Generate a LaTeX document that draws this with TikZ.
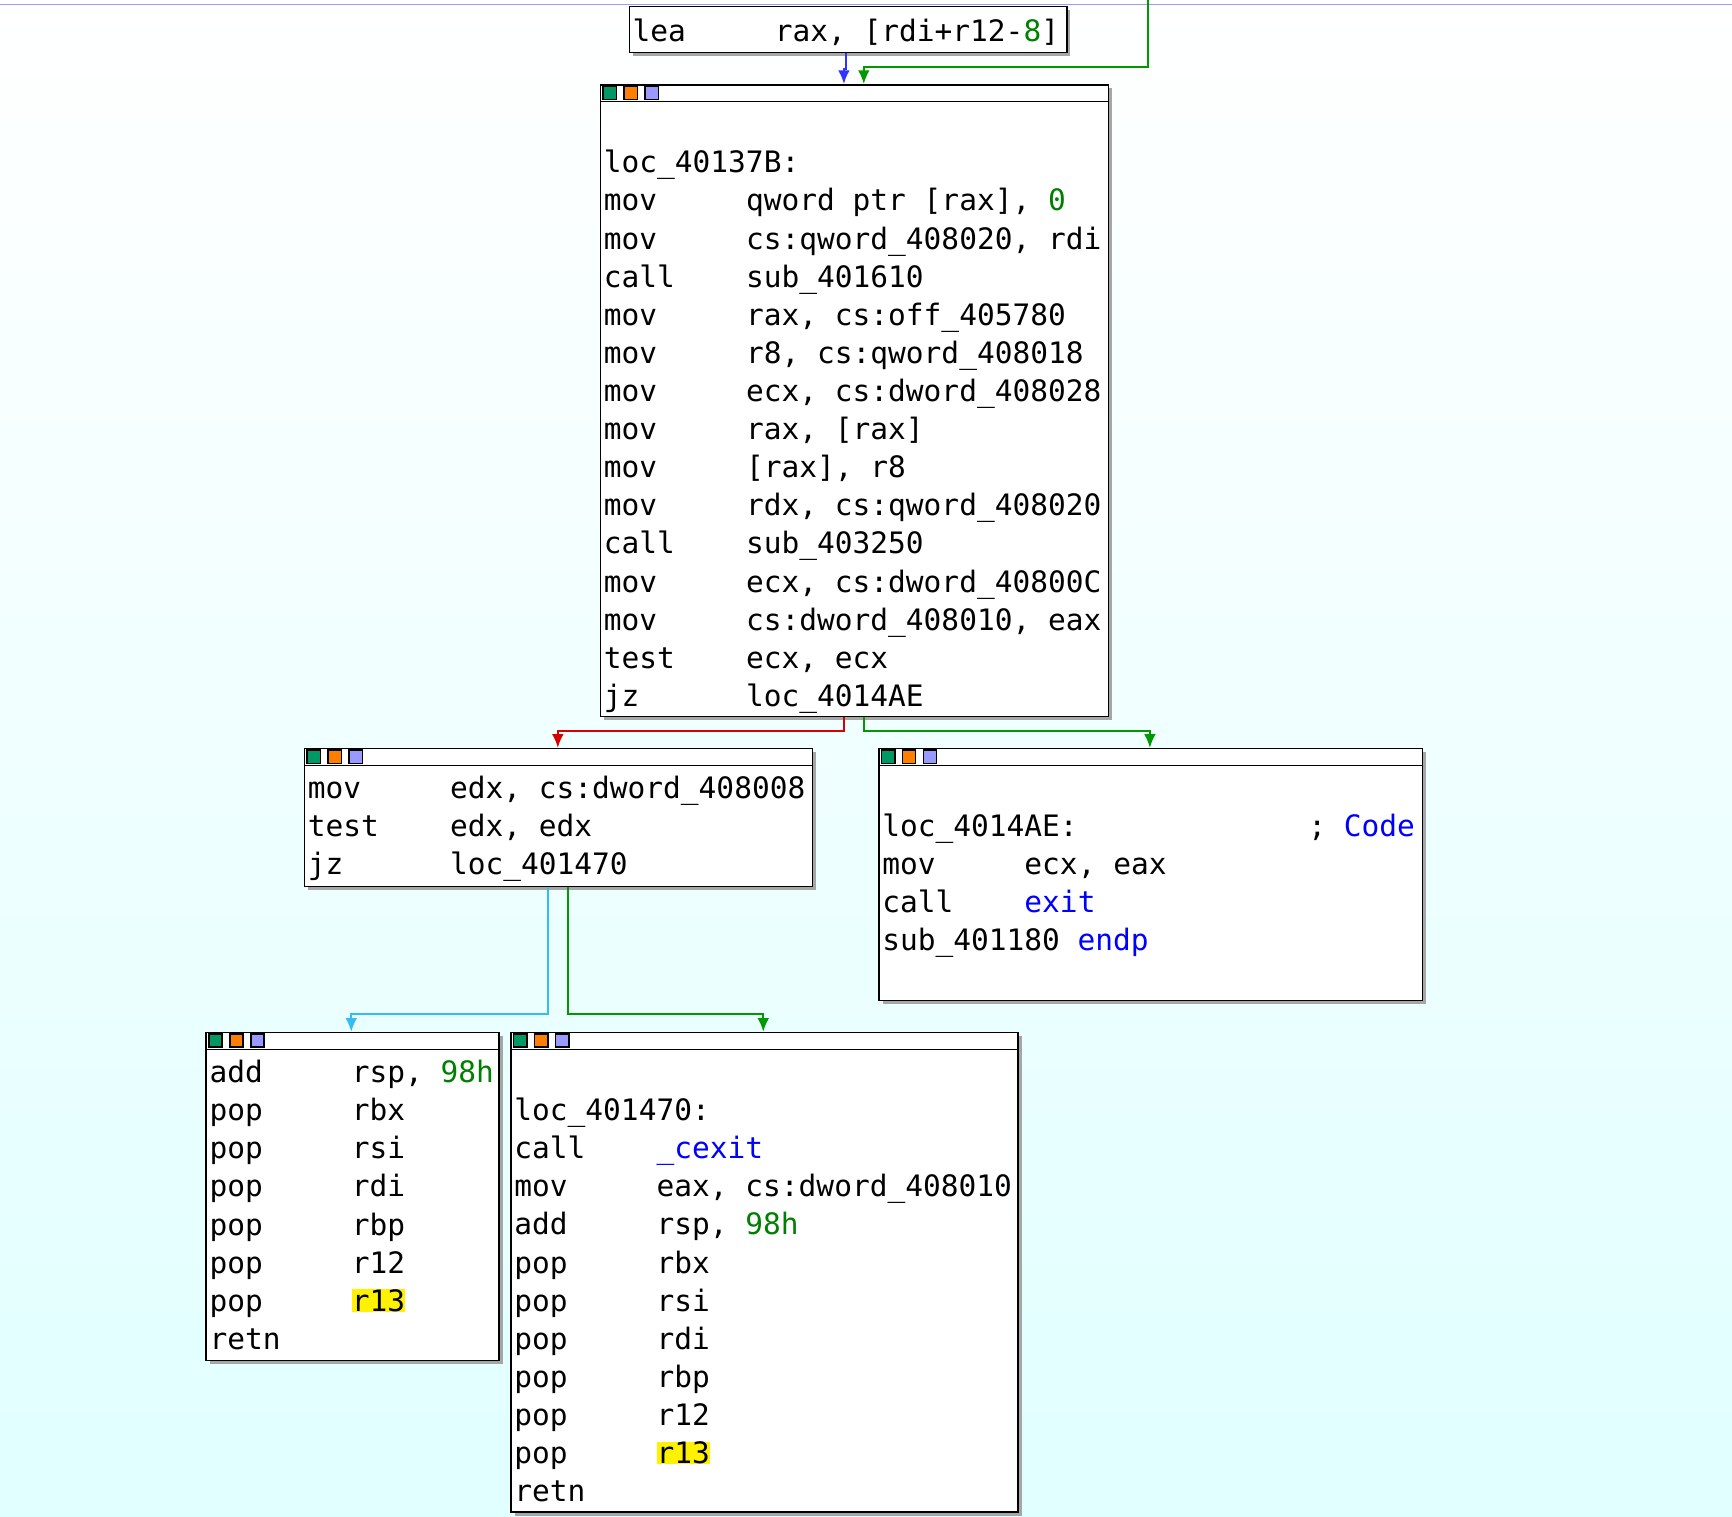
\documentclass[tikz,border=0pt]{standalone}
\usepackage{fontspec}
\setmonofont{DejaVu Sans Mono}
\usetikzlibrary{arrows.meta}
\colorlet{NumberGreen}{green!50!black}
\colorlet{NameBlue}{blue}
\colorlet{EdgeTrue}{green!60!black}
\colorlet{EdgeFalse}{red!85!black}
\colorlet{EdgeJump}{blue!80}
\colorlet{EdgeFall}{cyan!80}
\newcommand{\insn}[2]{\makebox[4.82em][l]{#1}#2}
\newcommand{\num}[1]{\textcolor{NumberGreen}{#1}}
\newcommand{\nm}[1]{\textcolor{NameBlue}{#1}}
\newcommand{\hl}[1]{{\setlength{\fboxsep}{0pt}\colorbox{yellow}{#1}}}
\tikzset{
  block/.style={draw=black, fill=white, anchor=north west, inner sep=0pt},
  code/.style={anchor=north west, inner sep=0pt, align=left,
    font=\ttfamily\fontsize{7.6pt}{9.82pt}\selectfont},
  edge/.style={line width=0.5pt, -{Latex[length=3.5pt,width=3pt]}},
}
% one block with header and icons
\newcommand{\blockbox}[5]{% name, x, y, w, h
  \fill[black!35] (#2+0.04,-#3-0.04) rectangle ++(#4,-#5);
  \node[block, minimum width=#4 cm, minimum height=#5 cm] (#1) at (#2,-#3) {};
  \draw (#2,-#3-0.16) -- ++(#4,0);
  \foreach \i/\c in {0/green!60!blue,1/orange,2/blue!40} {
    \draw[fill=\c] (#2+0.03+\i*0.19,-#3-0.02) rectangle ++(0.12,-0.12);
  }
}
\begin{document}
\begin{tikzpicture}
\shade[top color=white, bottom color=cyan!12] (0,0) rectangle (15.68,-13.73);
\useasboundingbox (0,0) rectangle (15.68,-13.73);
\draw[blue!40] (0,-0.04) -- (15.68,-0.04);

% blocks
\fill[black!35] (5.73,-0.09) rectangle ++(3.96,-0.42);
\node[block, minimum width=3.96cm, minimum height=0.42cm] (lea) at (5.69,-0.05) {};
\node[code] at (5.72,-0.16) {\insn{lea}{rax, [rdi+r12-\num{8}]}};

\blockbox{locB}{5.43}{0.76}{4.60}{5.72}
\node[code] at (5.46,-0.97) {\strut\\
loc\_40137B:\\
\insn{mov}{qword ptr [rax], \num{0}}\\
\insn{mov}{cs:qword\_408020, rdi}\\
\insn{call}{sub\_401610}\\
\insn{mov}{rax, cs:off\_405780}\\
\insn{mov}{r8, cs:qword\_408018}\\
\insn{mov}{ecx, cs:dword\_408028}\\
\insn{mov}{rax, [rax]}\\
\insn{mov}{[rax], r8}\\
\insn{mov}{rdx, cs:qword\_408020}\\
\insn{call}{sub\_403250}\\
\insn{mov}{ecx, cs:dword\_40800C}\\
\insn{mov}{cs:dword\_408010, eax}\\
\insn{test}{ecx, ecx}\\
\insn{jz}{loc\_4014AE}};

\blockbox{locC}{2.75}{6.77}{4.60}{1.25}
\node[code] at (2.78,-7.02) {\insn{mov}{edx, cs:dword\_408008}\\
\insn{test}{edx, edx}\\
\insn{jz}{loc\_401470}};

\blockbox{locD}{7.95}{6.77}{4.92}{2.28}
\node[code] at (7.98,-6.98) {\strut\\
loc\_4014AE:\hspace{7.82em}; \nm{Code}\\
\insn{mov}{ecx, eax}\\
\insn{call}{\nm{exit}}\\
sub\_401180 \nm{endp}};

\blockbox{locE}{1.86}{9.34}{2.65}{2.97}
\node[code] at (1.89,-9.59) {\insn{add}{rsp, \num{98h}}\\
\insn{pop}{rbx}\\
\insn{pop}{rsi}\\
\insn{pop}{rdi}\\
\insn{pop}{rbp}\\
\insn{pop}{r12}\\
\insn{pop}{\hl{r13}}\\
retn};

\blockbox{locF}{4.62}{9.34}{4.59}{4.34}
\node[code] at (4.65,-9.55) {\strut\\
loc\_401470:\\
\insn{call}{\nm{\_cexit}}\\
\insn{mov}{eax, cs:dword\_408010}\\
\insn{add}{rsp, \num{98h}}\\
\insn{pop}{rbx}\\
\insn{pop}{rsi}\\
\insn{pop}{rdi}\\
\insn{pop}{rbp}\\
\insn{pop}{r12}\\
\insn{pop}{\hl{r13}}\\
retn};

% connectors
\coordinate (loop) at (10.39,0);
\draw[edge, EdgeJump] (lea.south -| 7.66,0) -- ++(0,-0.14) -| (locB.north -| 7.64,0);
\draw[edge, EdgeTrue] (loop) |- (7.82,-0.61) -- (locB.north -| 7.82,0);
\draw[edge, EdgeFalse] (locB.south -| 7.64,0) |- (5.05,-6.62) -- (locC.north -| 5.05,0);
\draw[edge, EdgeTrue] (locB.south -| 7.82,0) |- (10.41,-6.62) -- (locD.north -| 10.41,0);
\draw[edge, EdgeFall] (locC.south -| 4.96,0) |- (3.18,-9.18) -- (locE.north -| 3.18,0);
\draw[edge, EdgeTrue] (locC.south -| 5.14,0) |- (6.91,-9.18) -- (locF.north -| 6.91,0);
\end{tikzpicture}
\end{document}
